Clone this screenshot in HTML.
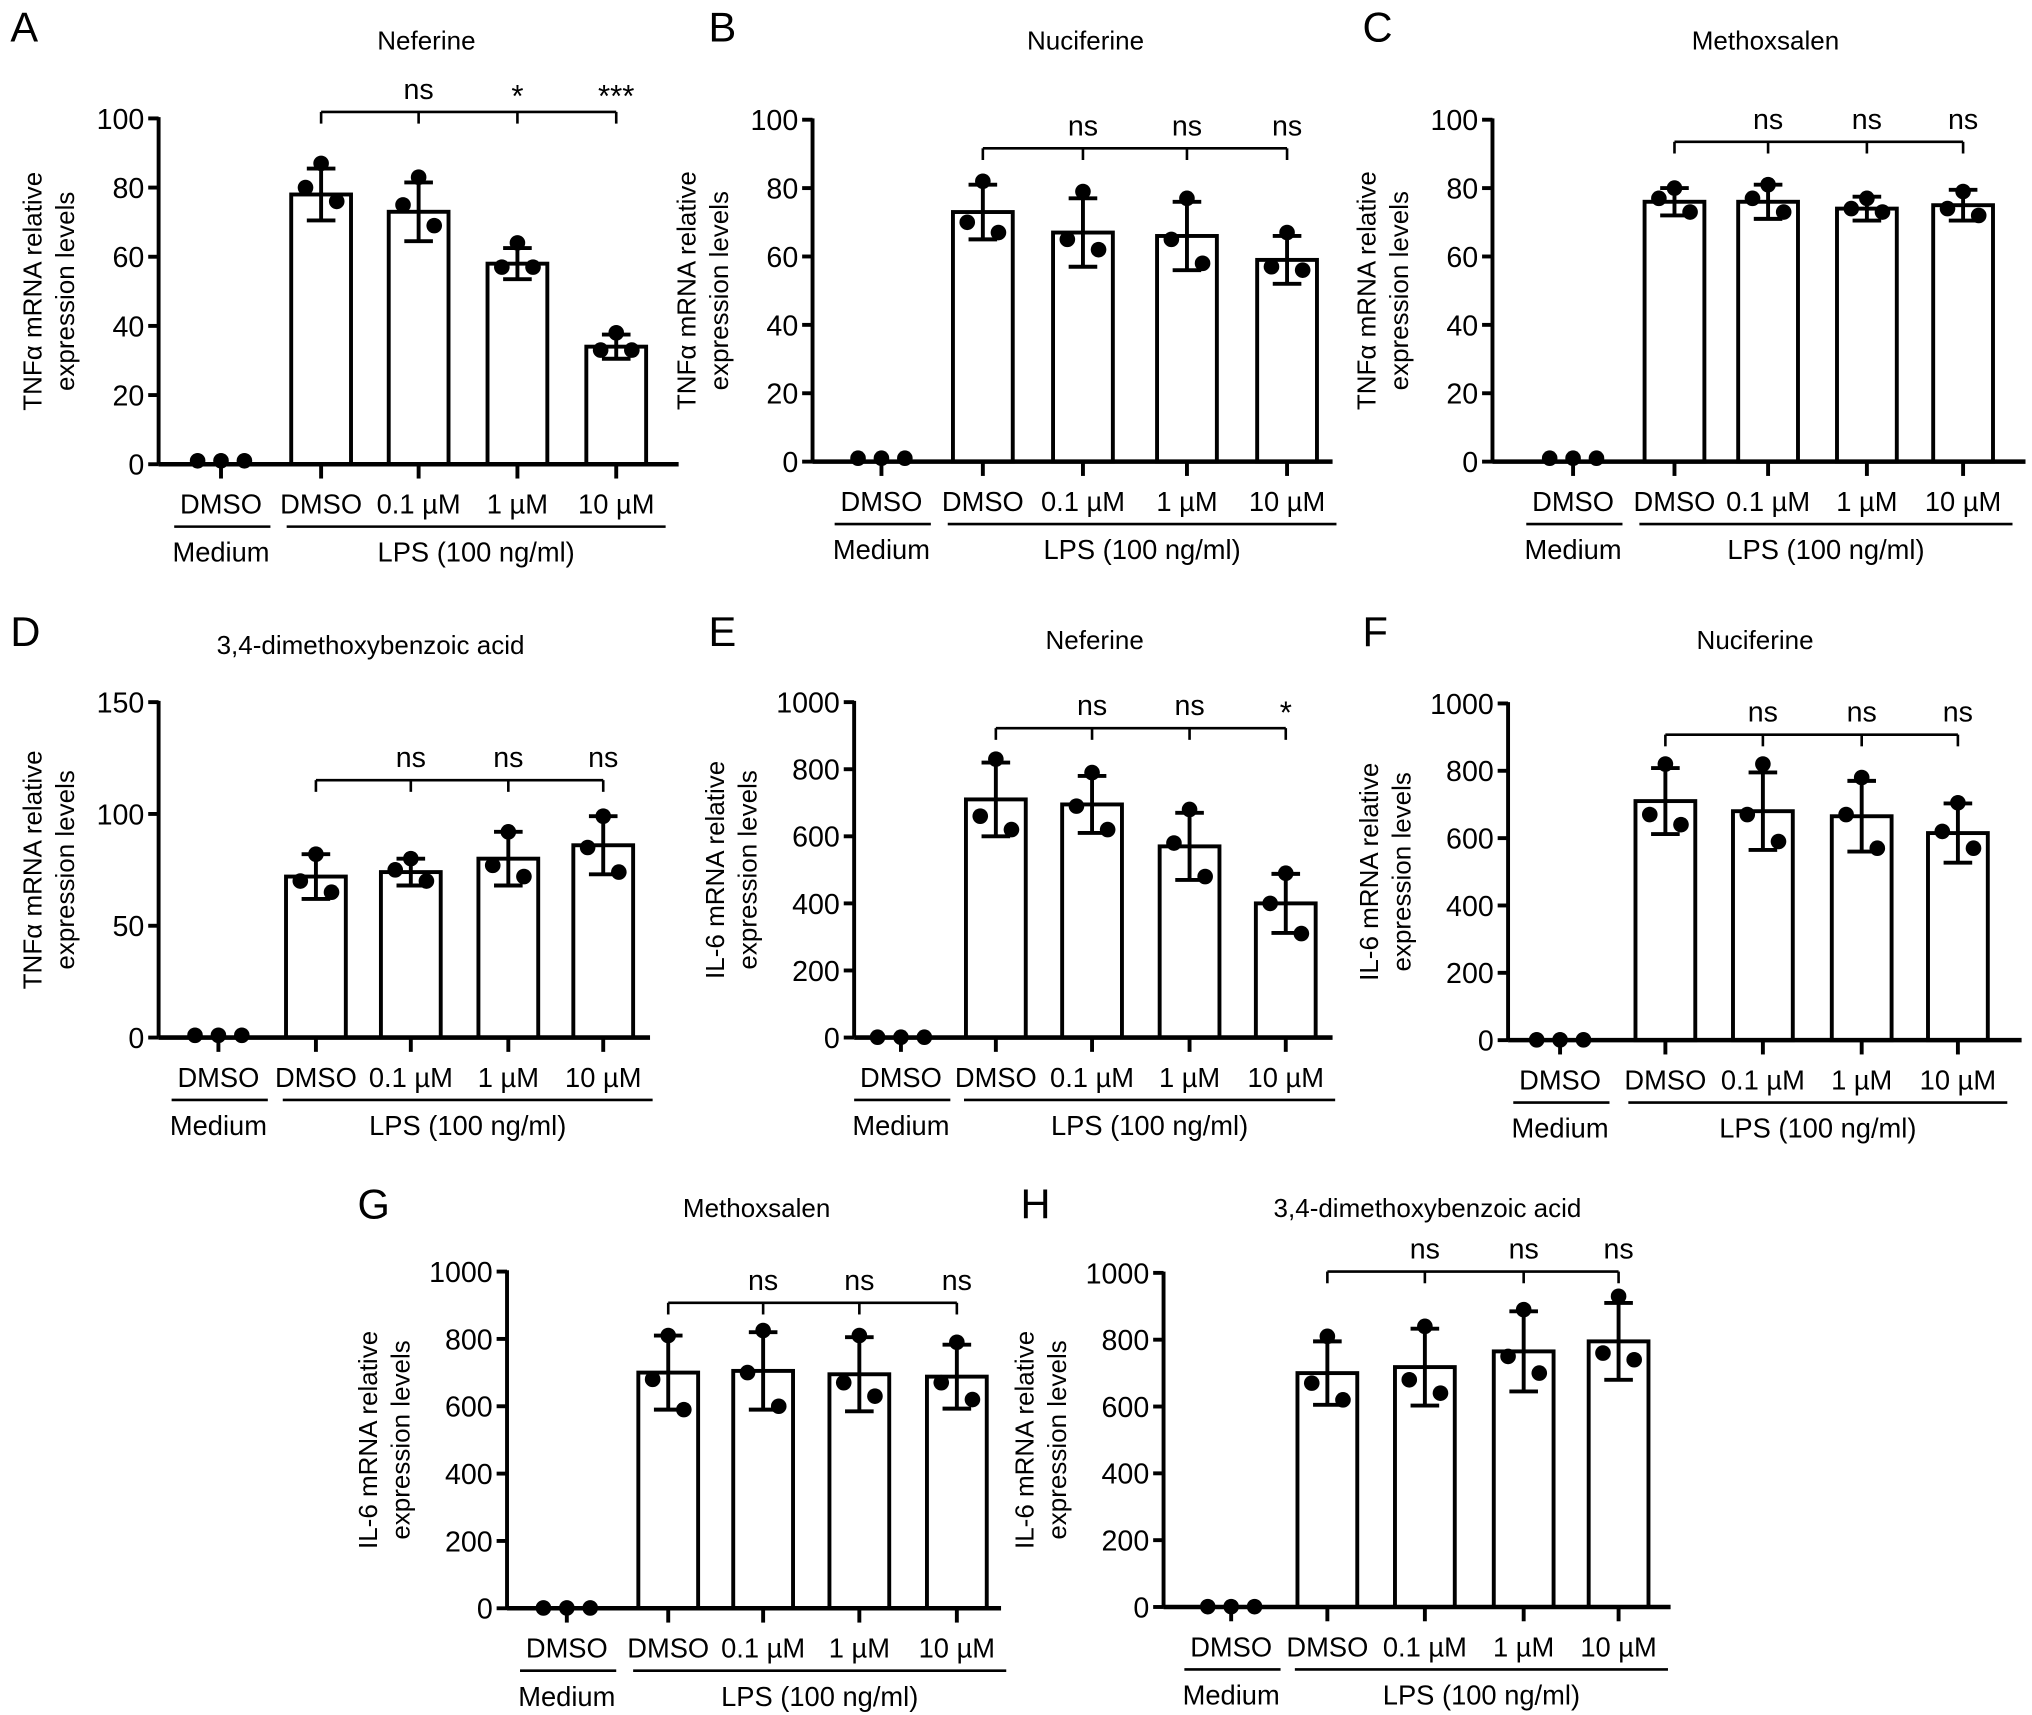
<!DOCTYPE html>
<html><head><meta charset="utf-8"><style>
html,body{margin:0;padding:0;background:#fff;}
svg{display:block;font-family:"Liberation Sans",Arial,sans-serif;}
</style></head><body>
<svg id="fig" width="2032" height="1715" viewBox="0 0 1563 1319" xmlns="http://www.w3.org/2000/svg"></svg>
<script>
const groups = ["DMSO","DMSO","0.1 µM","1 µM","10 µM"];
const titles = ["Neferine","Nuciferine","Methoxsalen","3,4-dimethoxybenzoic acid","Neferine","Nuciferine","Methoxsalen","3,4-dimethoxybenzoic acid"];
const letters = ["A","B","C","D","E","F","G","H"];
const yMaxes = [100,100,100,150,1000,1000,1000,1000];
const yStepsArr = [20,20,20,50,200,200,200,200];
const means = [
 [1,78,73,58,34],[1,73,67,66,59],[1,76,76,74,75],[1,72,74,80,86],
 [1,710,695,570,400],[1,710,680,665,615],[1,700,705,695,688],[1,700,718,765,795]];
const sds = [
 [0,7.5,8.5,4.5,3.5],[0,8,10,10,7],[0,4,5,3.5,4.5],[0,10,6,12,13],
 [0,110,85,100,88],[0,98,115,105,88],[0,110,115,110,95],[0,95,115,120,115]];
const points = [
 [[1,1,1],[87,80,76],[83,75,69],[64,57,57],[38,33,33]],
 [[1,1,1],[82,70,67],[79,65,62],[77,65,58],[67,57,56]],
 [[1,1,1],[80,77,73],[81,77,73],[77,74,73],[79,74,72]],
 [[1,1,1],[82,70,65],[80,75,70],[92,77,72],[99,85,74]],
 [[1,1,1],[830,660,620],[790,690,620],[680,580,480],[490,400,310]],
 [[1,1,1],[820,670,640],[820,670,590],[780,670,570],[705,620,570]],
 [[1,1,1],[810,680,590],[825,700,600],[810,670,630],[790,670,620]],
 [[1,1,1],[810,670,620],[840,680,640],[890,750,700],[930,760,740]]];
const sigs = [["ns","*","***"],["ns","ns","ns"],["ns","ns","ns"],["ns","ns","ns"],["ns","ns","*"],["ns","ns","ns"],["ns","ns","ns"],["ns","ns","ns"]];
const yTitles = ["TNFα mRNA relative","TNFα mRNA relative","TNFα mRNA relative","TNFα mRNA relative","IL-6 mRNA relative","IL-6 mRNA relative","IL-6 mRNA relative","IL-6 mRNA relative"];
const L = [
 {ax:122,y0:357,yt:91,xs:[170,247,322,398,474],xe:522,br:86,tx:328,ty:32,lx:8,ly:32},
 {ax:625,y0:355,yt:92,xs:[678,756,833,913,990],xe:1025,br:114,tx:835,ty:32,lx:545,ly:32},
 {ax:1148,y0:355,yt:92,xs:[1210,1288,1360,1436,1510],xe:1558,br:109,tx:1358,ty:32,lx:1048,ly:32},
 {ax:122,y0:798,yt:540,xs:[168,243,316,391,464],xe:500,br:600,tx:285,ty:497,lx:8,ly:497},
 {ax:657,y0:798,yt:540,xs:[693,766,840,915,989],xe:1025,br:560,tx:842,ty:493,lx:545,ly:497},
 {ax:1160,y0:800,yt:541,xs:[1200,1281,1356,1432,1506],xe:1555,br:565,tx:1350,ty:493,lx:1048,ly:497},
 {ax:390,y0:1237,yt:978,xs:[436,514,587,661,736],xe:770,br:1002,tx:582,ty:930,lx:275,ly:937},
 {ax:895,y0:1236,yt:979,xs:[947,1021,1096,1172,1245],xe:1285,br:978,tx:1098,ty:930,lx:785,ly:937}];
const NS="http://www.w3.org/2000/svg";
const svg=document.getElementById('fig');
function mk(tag,attrs,parent,text){const e=document.createElementNS(NS,tag);for(const k in attrs)e.setAttribute(k,attrs[k]);if(text!==undefined)e.textContent=text;(parent||svg).appendChild(e);return e;}
for(let p=0;p<8;p++){
 const g=L[p];
 const panel=mk('g',{});
 
 
 const y=v=>g.y0-(v/yMaxes[p])*(g.y0-g.yt);
 const t1=mk('text',{x:g.lx,y:g.ly,'font-size':32},panel,letters[p]);
 
 const t2=mk('text',{x:g.tx,y:g.ty+6,'font-size':20,'text-anchor':'middle'},panel,titles[p]);
 
 const cy=(g.y0+g.yt)/2, tx=g.ax-(p>=3&&p!=3?100:90);
 const yt=mk('text',{transform:`translate(${tx},${cy}) rotate(-90)`,'font-size':20,'text-anchor':'middle'},panel);
 
 mk('tspan',{x:0,dy:0},yt,yTitles[p]);mk('tspan',{x:0,dy:25},yt,'expression levels');
 for(let i=1;i<5;i++){
  const bw=46;
  const r=mk('rect',{x:g.xs[i]-bw/2,y:y(means[p][i]),width:bw,height:g.y0-y(means[p][i]),fill:'#fff',stroke:'#000','stroke-width':3},panel);
  
 }
 mk('line',{x1:g.ax,y1:g.yt-1,x2:g.ax,y2:g.y0,stroke:'#000','stroke-width':3},panel);
 for(let v=0;v<=yMaxes[p];v+=yStepsArr[p]){
  mk('line',{x1:g.ax-8,y1:y(v),x2:g.ax,y2:y(v),stroke:'#000','stroke-width':3},panel);
  const tl=mk('text',{x:g.ax-11,y:y(v)+8,'font-size':22,'text-anchor':'end'},panel,String(v));
  
 }
 mk('line',{x1:g.ax,y1:g.y0,x2:g.xe,y2:g.y0,stroke:'#000','stroke-width':3.5},panel);
 for(let i=0;i<5;i++){
  mk('line',{x1:g.xs[i],y1:g.y0,x2:g.xs[i],y2:g.y0+11,stroke:'#000','stroke-width':3},panel);
  const xl=mk('text',{x:g.xs[i],y:g.y0+38,'font-size':21,'text-anchor':'middle'},panel,groups[i]);
  
  if(sds[p][i]>0){
   const m=means[p][i],s=sds[p][i];
   mk('line',{x1:g.xs[i],y1:y(m-s),x2:g.xs[i],y2:y(m+s),stroke:'#000','stroke-width':3},panel);
   mk('line',{x1:g.xs[i]-11,y1:y(m+s),x2:g.xs[i]+11,y2:y(m+s),stroke:'#000','stroke-width':3},panel);
   mk('line',{x1:g.xs[i]-11,y1:y(m-s),x2:g.xs[i]+11,y2:y(m-s),stroke:'#000','stroke-width':3},panel);
  }
  const pts=points[p][i];
  for(let k=0;k<3;k++){
   const dx=i==0?[-18,0,18][k]:[0,-12,12][k];
   const c=mk('circle',{cx:g.xs[i]+dx,cy:y(pts[k]),r:6,fill:'#000'},panel);
   
  }
 }
 const uy=g.y0+48;
 const m1=g.xs[0], lpsL=(g.xs[0]+g.xs[1])/2+12;
 mk('line',{x1:m1-36,y1:uy,x2:m1+38,y2:uy,stroke:'#000','stroke-width':2},panel);
 mk('line',{x1:lpsL,y1:uy,x2:g.xs[4]+38,y2:uy,stroke:'#000','stroke-width':2},panel);
 const gm=mk('text',{x:m1,y:uy+27,'font-size':21,'text-anchor':'middle'},panel,'Medium');
 
 const gl=mk('text',{x:(lpsL+g.xs[4]+38)/2,y:uy+27,'font-size':21,'text-anchor':'middle'},panel,'LPS (100 ng/ml)');
 
 mk('line',{x1:g.xs[1],y1:g.br,x2:g.xs[4],y2:g.br,stroke:'#000','stroke-width':2},panel);
 for(let i=1;i<5;i++) mk('line',{x1:g.xs[i],y1:g.br,x2:g.xs[i],y2:g.br+9,stroke:'#000','stroke-width':2},panel);
 for(let i=2;i<5;i++){
  const s=sigs[p][i-2];
  const st=mk('text',{x:g.xs[i],y:s=='ns'?g.br-10:g.br-4,'font-size':s=='ns'?22:24,'text-anchor':'middle'},panel,s);
  
 }
}
</script>
</body></html>
